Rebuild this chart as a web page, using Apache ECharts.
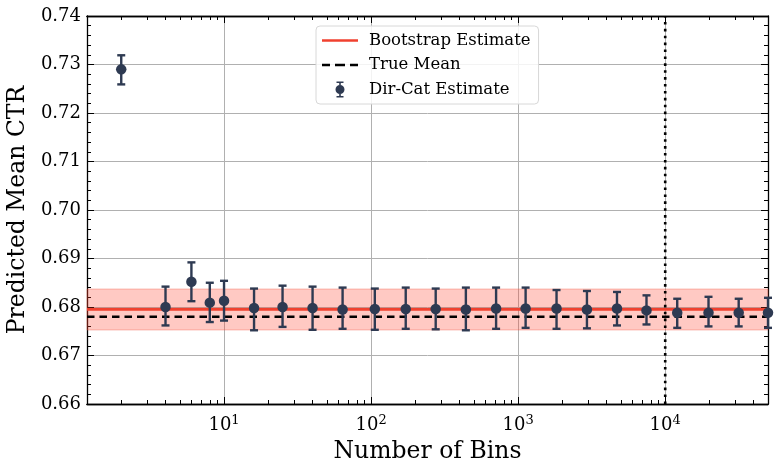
<!DOCTYPE html>
<html>
<head>
<meta charset="utf-8">
<script src="https://cdn.jsdelivr.net/npm/echarts@6/dist/echarts.min.js"></script>
<style>html,body{margin:0;padding:0;background:#fff}#c{width:778px;height:471px}</style>
</head>
<body>
<div id="c"></div>
<script>
// ---- data ----
const bins = [2, 4, 6, 8, 10, 16, 25, 40, 64, 106, 172, 275, 441, 708, 1124, 1824, 2936, 4700, 7460, 12070, 19700, 31600, 50000];
const dirCatMean = [0.7290, 0.6800, 0.6852, 0.6809, 0.6813, 0.6798, 0.6800, 0.6798, 0.6795, 0.6796, 0.6796, 0.6796, 0.6795, 0.6797, 0.6797, 0.6797, 0.6795, 0.6797, 0.6793, 0.6788, 0.6788, 0.6788, 0.6788];
const dirCatLow  = [0.7259, 0.6762, 0.6812, 0.6769, 0.6772, 0.6752, 0.6759, 0.6753, 0.6755, 0.6753, 0.6755, 0.6754, 0.6752, 0.6755, 0.6757, 0.6755, 0.6756, 0.6762, 0.6764, 0.6757, 0.6760, 0.6760, 0.6757];
const dirCatHigh = [0.7319, 0.6842, 0.6892, 0.6850, 0.6854, 0.6838, 0.6844, 0.6842, 0.6840, 0.6838, 0.6840, 0.6838, 0.6840, 0.6840, 0.6840, 0.6835, 0.6833, 0.6831, 0.6824, 0.6817, 0.6821, 0.6817, 0.6819];
const bootstrapMean = 0.6795;
const bootstrapLow = 0.67526;
const bootstrapHigh = 0.68371;
const trueMean = 0.6780;
const verticalMarker = 10000;
const xMin = 1.17, xMax = 50000;
const yMin = 0.66, yMax = 0.74;
const xMajorTicks = [10, 100, 1000, 10000];
const xMinorTicks = [2,3,4,5,6,7,8,9,20,30,40,50,60,70,80,90,200,300,400,500,600,700,800,900,2000,3000,4000,5000,6000,7000,8000,9000,20000,30000,40000];
const superscripts = {10: '1', 100: '2', 1000: '3', 10000: '4'};

const FONT = 'DejaVu Serif';
const PT_COLOR = '#2e3a52';
const RED = '#f0412f';

const chart = echarts.init(document.getElementById('c'), null, {renderer: 'canvas'});

function xAxisDef(pos, ticks, len, labels, split) {
  return {
    type: 'log', logBase: 10, min: xMin, max: xMax, position: pos,
    axisLine: {show: true, onZero: false, lineStyle: {color: '#000', width: 1.3}},
    axisTick: {show: true, inside: true, length: len, customValues: ticks, lineStyle: {color: '#000', width: 1}},
    axisLabel: labels ? {
      show: true, customValues: ticks, margin: 10, color: '#000',
      fontFamily: FONT, fontSize: 18,
      formatter: v => '10{s|' + superscripts[Math.round(v)] + '}',
      rich: {s: {fontFamily: FONT, fontSize: 13, padding: [0, 0, 10, 0], color: '#000'}}
    } : {show: false},
    splitLine: {show: split, lineStyle: {color: '#b0b0b0', width: 1}},
    minorTick: {show: false},
    name: (labels ? 'Number of Bins' : ''), nameLocation: 'middle', nameGap: 35,
    nameTextStyle: {fontFamily: FONT, fontSize: 23.5, color: '#000'}
  };
}
function yAxisDef(pos, labels, split) {
  return {
    type: 'value', min: yMin, max: yMax, interval: 0.01, position: pos,
    axisLine: {show: true, onZero: false, lineStyle: {color: '#000', width: 1.3}},
    axisTick: {show: true, inside: true, length: 7, lineStyle: {color: '#000', width: 1}},
    minorTick: {show: true, splitNumber: 5, length: 4, lineStyle: {color: '#000', width: 1}},
    axisLabel: labels ? {show: true, color: '#000', fontFamily: FONT, fontSize: 18, margin: 6, formatter: v => v.toFixed(2)} : {show: false},
    splitLine: {show: split, lineStyle: {color: '#b0b0b0', width: 1}},
    name: (labels ? 'Predicted Mean CTR' : ''), nameLocation: 'middle', nameGap: 54,
    nameTextStyle: {fontFamily: FONT, fontSize: 23.5, color: '#000'}
  };
}

const errData = bins.map((b, i) => [b, dirCatLow[i], dirCatHigh[i]]);
const ptData = bins.map((b, i) => [b, dirCatMean[i]]);

const option = {
  animation: false,
  backgroundColor: '#fff',
  grid: {left: 87, right: 10, top: 16, bottom: 67, containLabel: false, outerBoundsMode: 'none'},
  xAxis: [
    xAxisDef('bottom', xMajorTicks, 7, true, true),
    xAxisDef('bottom', xMinorTicks, 4, false, false),
    xAxisDef('top', xMajorTicks, 7, false, false),
    xAxisDef('top', xMinorTicks, 4, false, false)
  ],
  yAxis: [
    yAxisDef('left', true, true),
    yAxisDef('right', false, false)
  ],
  legend: {
    left: 316, top: 26, width: 224,
    orient: 'vertical', itemGap: 7.5, itemWidth: 36, itemHeight: 16,
    padding: [6, 8, 6, 6],
    borderColor: '#d8d8d8', borderWidth: 1, borderRadius: 4,
    backgroundColor: 'rgba(255,255,255,0.85)',
    textStyle: {fontFamily: FONT, fontSize: 16.5, color: '#000', padding: [0, 0, 0, 6]},
    data: [
      {name: 'Bootstrap Estimate', icon: 'path://M0,6.8 L36,6.8 L36,9.2 L0,9.2 Z', itemStyle: {color: RED}},
      {name: 'True Mean', icon: 'path://M0,7 L8,7 L8,9.5 L0,9.5 Z M13,7 L23,7 L23,9.5 L13,9.5 Z M28,7 L36,7 L36,9.5 L28,9.5 Z', itemStyle: {color: '#000'}},
      {name: 'Dir-Cat Estimate', icon: 'path://M1,0 L8,0 L8,1.6 L5.3,1.6 L5.3,3.6 L3.7,3.6 L3.7,1.6 L1,1.6 Z M3.7,12.4 L5.3,12.4 L5.3,14.4 L8,14.4 L8,16 L1,16 L1,14.4 L3.7,14.4 Z M0,8 A4.5,4.5 0 1 1 9,8 A4.5,4.5 0 1 1 0,8 Z', itemStyle: {color: PT_COLOR}}
    ]
  },
  series: [
    {
      name: 'Bootstrap Estimate', type: 'line', xAxisIndex: 0, yAxisIndex: 0,
      data: [[xMin, bootstrapMean], [xMax, bootstrapMean]],
      showSymbol: false, symbol: 'none', lineStyle: {color: RED, width: 2.8}, itemStyle: {color: RED}, z: 3,
      markArea: {
        silent: true,
        itemStyle: {color: 'rgba(255,60,40,0.28)', borderColor: 'rgba(240,80,60,0.35)', borderWidth: 1},
        data: [[{yAxis: bootstrapLow}, {yAxis: bootstrapHigh}]]
      }
    },
    {
      name: 'True Mean', type: 'line', xAxisIndex: 0, yAxisIndex: 0,
      data: [[xMin, trueMean], [xMax, trueMean]],
      showSymbol: false, symbol: 'none', lineStyle: {color: '#000', width: 2.4, type: [7.5, 5]}, itemStyle: {color: '#000'}, z: 4
    },
    {
      name: 'vline', type: 'line', xAxisIndex: 0, yAxisIndex: 0,
      data: [[verticalMarker, yMin], [verticalMarker, yMax]],
      showSymbol: false, symbol: 'none', lineStyle: {color: '#000', width: 2.6, type: [2.6, 4.3]}, z: 4
    },
    {
      name: 'Dir-Cat Estimate', type: 'custom', xAxisIndex: 0, yAxisIndex: 0,
      data: errData, z: 5, itemStyle: {color: PT_COLOR},
      renderItem: function (params, api) {
        const x = api.value(0);
        const lo = api.coord([x, api.value(1)]);
        const hi = api.coord([x, api.value(2)]);
        const cw = 4;
        const st = {stroke: PT_COLOR, lineWidth: 2.4};
        return {
          type: 'group',
          children: [
            {type: 'line', shape: {x1: lo[0], y1: lo[1], x2: hi[0], y2: hi[1]}, style: st},
            {type: 'line', shape: {x1: lo[0] - cw, y1: lo[1], x2: lo[0] + cw, y2: lo[1]}, style: st},
            {type: 'line', shape: {x1: hi[0] - cw, y1: hi[1], x2: hi[0] + cw, y2: hi[1]}, style: st}
          ]
        };
      },
      encode: {x: 0, y: [1, 2]}
    },
    {
      name: 'Dir-Cat Estimate', type: 'scatter', xAxisIndex: 0, yAxisIndex: 0,
      data: ptData, symbol: 'circle', symbolSize: 10.5, itemStyle: {color: PT_COLOR, opacity: 1}, z: 6
    }
  ]
};
chart.setOption(option);
</script>
</body>
</html>
